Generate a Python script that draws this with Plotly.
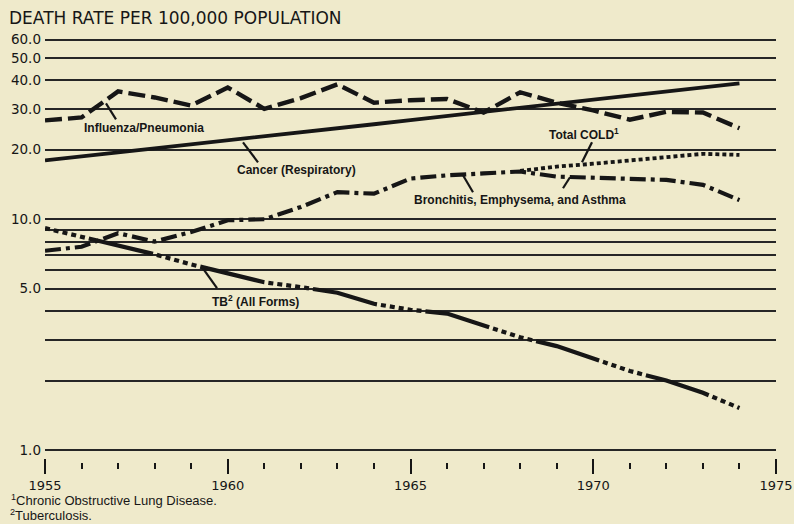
import math
import plotly.graph_objects as go

# ---------------- data ----------------
years = list(range(1955, 1975))

influenza_pneumonia = [26.8, 27.6, 35.8, 33.7, 31.1, 37.2, 30.1, 33.5, 38.4, 32.0,
                       32.8, 33.2, 29.0, 35.5, 32.0, 29.6, 27.0, 29.2, 29.0, 24.8]

cancer_respiratory = [18.0, 18.8, 19.5, 20.3, 21.1, 22.0, 22.9, 23.8, 24.8, 25.8,
                      26.9, 28.0, 29.2, 30.4, 31.6, 32.9, 34.3, 35.7, 37.2, 38.8]

bronchitis_emph_asthma = [7.3, 7.6, 8.7, 8.0, 8.8, 9.9, 10.0, 11.3, 13.1, 12.9,
                          15.0, 15.5, 15.8, 16.1, 15.3, 15.1, 14.9, 14.8, 14.1, 12.1]

cold_years = list(range(1968, 1975))
total_cold = [16.2, 16.9, 17.4, 18.0, 18.6, 19.2, 19.0]

tb_all_forms = [9.15, 8.4, 7.7, 7.05, 6.37, 5.8, 5.33, 5.08, 4.8, 4.3,
                4.05, 3.9, 3.47, 3.08, 2.82, 2.5, 2.2, 2.0, 1.77, 1.52]

y_label_vals = [1, 5, 10, 20, 30, 40, 50, 60]
y_label_text = ["1.0", "5.0", "10.0", "20.0", "30.0", "40.0", "50.0", "60.0"]
y_minor_grid_vals = [2, 3, 4, 6, 7, 8, 9]

x_major_ticks = [1955, 1960, 1965, 1970, 1975]
x_major_text = ["1955", "1960", "1965", "1970", "1975"]
x_minor_ticks = list(range(1955, 1976))

title_text = "DEATH RATE PER 100,000 POPULATION"
footnote_1 = "<sup>1</sup>Chronic Obstructive Lung Disease."
footnote_2 = "<sup>2</sup>Tuberculosis."

# ---------------- style ----------------
BG = "#EFEACB"
INK = "#161616"
GRID = "#262626"
LABEL_FONT = dict(family="Liberation Sans", size=12, color=INK, weight="bold")

fig = go.Figure()

fig.add_trace(go.Scatter(x=years, y=influenza_pneumonia, mode="lines",
                         line=dict(color=INK, width=4.4, dash="17px,6px"),
                         name="Influenza/Pneumonia"))
fig.add_trace(go.Scatter(x=years, y=cancer_respiratory, mode="lines",
                         line=dict(color=INK, width=3.8),
                         name="Cancer (Respiratory)"))
fig.add_trace(go.Scatter(x=years, y=bronchitis_emph_asthma, mode="lines",
                         line=dict(color=INK, width=4.2, dash="16px,5px,4px,5px"),
                         name="Bronchitis, Emphysema, and Asthma"))
fig.add_trace(go.Scatter(x=cold_years, y=total_cold, mode="lines",
                         line=dict(color=INK, width=3.8, dash="4px,3px"),
                         name="Total COLD"))
fig.add_trace(go.Scatter(x=years, y=tb_all_forms, mode="lines",
                         line=dict(color=INK, width=4.2,
                                   dash="5px,4px,5px,4px,5px,4px,5px,4px,5px,4px,66px,4px"),
                         name="TB (All Forms)"))
# carrier for the minor-tick axis
fig.add_trace(go.Scatter(x=[], y=[], xaxis="x2", yaxis="y", showlegend=False, hoverinfo="skip"))

# layout geometry
T, B = 38, 62
H = 524 - T - B
y_lo = -0.0065
y_hi = math.log10(61)
dom_bottom = 10.5 / H

fig.update_layout(
    width=794, height=524,
    margin=dict(l=45, r=18, t=T, b=B, autoexpand=False),
    paper_bgcolor=BG, plot_bgcolor=BG,
    showlegend=False,
    xaxis=dict(range=[1955, 1975], anchor="free", position=4.0 / H, automargin=False,
               tickvals=x_major_ticks, ticktext=x_major_text,
               ticks="outside", ticklen=15, tickwidth=2, tickcolor=INK,
               showgrid=False, zeroline=False, showline=False,
               tickfont=dict(family="DejaVu Sans", size=13, color=INK)),
    xaxis2=dict(range=[1955, 1975], overlaying="x", anchor="free", position=0,
                automargin=False,
                tickvals=x_minor_ticks, ticks="outside", ticklen=6, tickwidth=1.8,
                tickcolor=INK, showticklabels=False, showgrid=False,
                zeroline=False, showline=False),
    yaxis=dict(type="log", range=[y_lo, y_hi], domain=[dom_bottom, 1], automargin=False,
               tickvals=y_label_vals, ticktext=y_label_text,
               showgrid=True, gridcolor=GRID, gridwidth=1.5,
               minor=dict(tickvals=y_minor_grid_vals, showgrid=True,
                          gridcolor=GRID, gridwidth=1.5, ticks=""),
               ticks="", showline=False, zeroline=False, ticklabelstandoff=3,
               tickfont=dict(family="DejaVu Sans", size=13.5, color=INK)),
)

def px_to_year(px):
    return 1955 + (px - 45) / 36.55

def py_to_log(py):
    return (450 - py) / 231.0

# series labels
labels = [
    ("Influenza/Pneumonia", 82, 128),
    ("Cancer (Respiratory)", 235, 170),
    ("Bronchitis, Emphysema, and Asthma", 412, 200),
    ("Total COLD<sup>1</sup>", 547, 134),
    ("TB<sup>2</sup> (All Forms)", 210, 301),
]
for txt, px, py in labels:
    fig.add_annotation(x=px_to_year(px), y=py_to_log(py), xref="x", yref="y",
                       text=txt, showarrow=False, xanchor="left", yanchor="middle",
                       font=LABEL_FONT)

# leader lines (shapes on a log axis take data values)
leaders = [
    ((106, 103), (116, 119)),
    ((243, 142), (258, 162)),
    ((463, 175), (473, 192)),
    ((563, 188), (570, 177)),
    ((582, 162), (592, 142)),
    ((202, 267), (217, 288)),
]
for (x0, y0), (x1, y1) in leaders:
    fig.add_shape(type="line", xref="x", yref="y",
                  x0=px_to_year(x0), y0=10 ** py_to_log(y0),
                  x1=px_to_year(x1), y1=10 ** py_to_log(y1),
                  line=dict(color=INK, width=2.2))

def px_to_paper_x(px):
    return (px - 45) / 731.0

def py_to_paper_y(py):
    return (462 - py) / H

fig.add_annotation(x=px_to_paper_x(7), y=py_to_paper_y(18), xref="paper", yref="paper",
                   text=title_text, showarrow=False, xanchor="left", yanchor="middle",
                   font=dict(family="DejaVu Sans", size=17, color=INK))
fig.add_annotation(x=px_to_paper_x(9), y=py_to_paper_y(500), xref="paper", yref="paper",
                   text=footnote_1, showarrow=False, xanchor="left", yanchor="middle",
                   font=dict(family="Liberation Sans", size=13, color=INK))
fig.add_annotation(x=px_to_paper_x(8), y=py_to_paper_y(515), xref="paper", yref="paper",
                   text=footnote_2, showarrow=False, xanchor="left", yanchor="middle",
                   font=dict(family="Liberation Sans", size=13, color=INK))

fig.write_html(
    "out.html",
    config={"displayModeBar": False},
    post_script="document.body.style.margin='0';document.body.style.background='" + BG + "';",
)
